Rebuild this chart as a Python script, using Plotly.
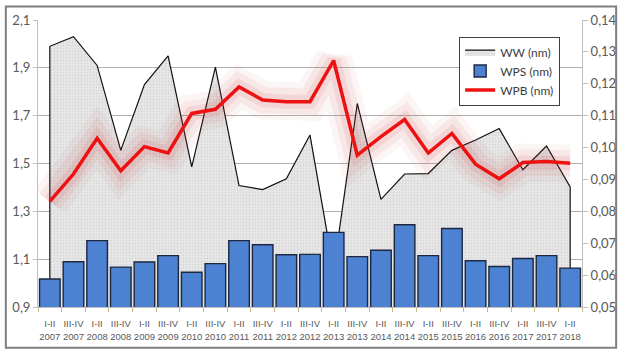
import plotly.graph_objects as go

periods = ["I-II", "III-IV"] * 11 + ["I-II"]
years = [2007, 2007, 2008, 2008, 2009, 2009, 2010, 2010, 2011, 2011, 2012, 2012,
         2013, 2013, 2014, 2014, 2015, 2015, 2016, 2016, 2017, 2017, 2018]
categories = [f"{p}<br>{y}" for p, y in zip(periods, years)]

ww = [1.99, 2.03, 1.91, 1.555, 1.83, 1.95, 1.486, 1.903, 1.408, 1.391, 1.436, 1.619,
      1.054, 1.751, 1.35, 1.456, 1.458, 1.555, 1.598, 1.646, 1.474, 1.573, 1.402]
wps = [0.0588, 0.0642, 0.0708, 0.0625, 0.0641, 0.0661, 0.0609, 0.0636, 0.0708, 0.0695,
       0.0664, 0.0665, 0.0734, 0.0658, 0.0678, 0.0758, 0.0661, 0.0746, 0.0645, 0.0627,
       0.0652, 0.0661, 0.0622]
wpb = [0.0831, 0.0917, 0.1029, 0.0927, 0.1003, 0.0983, 0.1107, 0.112, 0.119, 0.1149,
       0.1144, 0.1144, 0.1273, 0.0976, 0.1034, 0.1088, 0.0983, 0.1044, 0.0948, 0.0902,
       0.0953, 0.0956, 0.0951]

left_range = [0.9, 2.1]
right_range = [0.05, 0.14]

font_family = "Lato, 'Open Sans', sans-serif"
label_family = "'Liberation Sans', Arial, sans-serif"
tick_color = "#595959"

fig = go.Figure()

# WW area (closed at the axis minimum on both ends, like Excel's area outline)
area_x = [categories[0]] + categories + [categories[-1]]
area_y = [left_range[0]] + ww + [left_range[0]]
fig.add_trace(go.Scatter(
    x=area_x, y=area_y, name="WW (nm)", mode="lines",
    line=dict(color="#111111", width=1.2),
    fill="tozeroy", fillcolor="#e4e4e4",
    fillpattern=dict(shape=".", fgcolor="#c2c2c2", bgcolor="#e8e8e8", size=3, solidity=0.3),
    yaxis="y",
))

fig.add_trace(go.Bar(
    x=categories, y=wps, name="WPS (nm)", yaxis="y2",
    marker=dict(color="#4d82d2", line=dict(color="#1b2840", width=1.4)),
))

for w, a in [(38, 0.05), (26, 0.07), (14, 0.10)]:
    fig.add_trace(go.Scatter(
        x=categories, y=wpb, yaxis="y2", mode="lines", showlegend=False,
        hoverinfo="skip", line=dict(color=f"rgba(205,55,55,{a})", width=w),
    ))

fig.add_trace(go.Scatter(
    x=categories, y=wpb, name="WPB (nm)", yaxis="y2", mode="lines",
    line=dict(color="#ee1111", width=3.5),
))

fig.update_layout(
    width=629, height=354,
    margin=dict(l=34, r=37, t=15, b=44),
    paper_bgcolor="white", plot_bgcolor="white",
    separators=", ",
    font=dict(family=font_family, color=tick_color, size=13),
    bargap=0.13,
    showlegend=True,
    legend=dict(
        x=(466 - 34) / 558, y=(310 - 32) / 295, xanchor="left", yanchor="top",
        bgcolor="white", bordercolor="#404040", borderwidth=1,
        font=dict(size=12, color="#404040", family=font_family),
        itemwidth=30, tracegroupgap=0,
    ),
    xaxis=dict(
        type="category", tickangle=0,
        tickfont=dict(size=9.5, color=tick_color, family=label_family),
        ticklabelstandoff=8,
        showgrid=False, showline=True, linecolor="#bfbfbf", linewidth=1,
        ticks="outside", tickson="boundaries", ticklen=4, tickcolor="#c8b98c",
        range=[-0.5, len(categories) - 0.5],
    ),
    yaxis=dict(
        range=left_range, dtick=0.2, tick0=0.9, tickformat=".1f",
        showgrid=True, gridcolor="#b0b0b0", gridwidth=1,
        showline=True, linecolor="#bfbfbf", ticks="outside", ticklen=4, tickcolor="#bfbfbf",
        tickfont=dict(size=13, color=tick_color), zeroline=False,
    ),
    yaxis2=dict(
        range=right_range, dtick=0.01, tick0=0.05, tickformat=".2f",
        overlaying="y", side="right", showgrid=False,
        showline=True, linecolor="#bfbfbf", ticks="outside", ticklen=5, tickcolor="#bfbfbf",
        tickfont=dict(size=13, color=tick_color), zeroline=False,
    ),
    shapes=[dict(
        type="rect", xref="paper", yref="paper",
        x0=(1 - 34) / 558, x1=(627 - 34) / 558,
        y0=(310 - 352) / 295, y1=(310 - 1) / 295,
        line=dict(color="#7f7f7f", width=2), fillcolor="rgba(0,0,0,0)", layer="above",
    )],
)

fig.write_html("out.html")
